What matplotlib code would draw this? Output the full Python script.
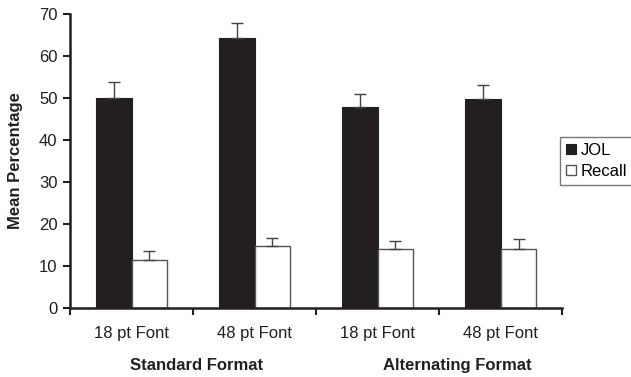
import numpy as np
import matplotlib.pyplot as plt

plt.rcParams['font.family'] = ['Liberation Sans', 'DejaVu Sans']

# Data
conditions = ['18 pt Font', '48 pt Font', '18 pt Font', '48 pt Font']
groups = ['Standard Format', 'Alternating Format']
jol = [50.1, 64.3, 47.9, 49.8]
jol_err = [3.6, 3.6, 3.1, 3.4]
recall = [11.5, 14.8, 14.1, 14.1]
recall_err = [2.1, 1.9, 1.8, 2.3]

x = np.arange(len(conditions))
w = 0.29
dark = '#231f20'

fig = plt.figure(figsize=(6.31, 3.77), dpi=100)
ax = fig.add_axes([0.111, 0.183, 0.78, 0.78])

ekw = dict(ecolor='#444444', elinewidth=1, capsize=4, capthick=1)
ax.bar(x - w / 2, jol, w, color=dark, edgecolor=dark, linewidth=0.8,
       yerr=[np.zeros(4), jol_err], error_kw=ekw, label='JOL', zorder=2)
ax.bar(x + w / 2, recall, w, color='white', edgecolor='#555555', linewidth=1,
       yerr=[np.zeros(4), recall_err], error_kw=ekw, label='Recall', zorder=2)

ax.set_xlim(-0.5, len(conditions) - 0.5)
ax.set_ylim(0, 70)
ax.set_yticks(range(0, 71, 10))
ax.set_xticks(np.arange(-0.5, len(conditions), 1.0))
ax.set_xticklabels([])
ax.tick_params(axis='x', length=5, width=1.5, direction='out', color=dark)
ax.tick_params(axis='y', length=5, width=1.5, direction='out', labelsize=12,
               color=dark, labelcolor=dark, pad=4)
for s in ['top', 'right']:
    ax.spines[s].set_visible(False)
for s in ['left', 'bottom']:
    ax.spines[s].set_linewidth(1.8)
    ax.spines[s].set_color(dark)

for xi, lab in zip(x, conditions):
    ax.text(xi, -0.087, lab, transform=ax.get_xaxis_transform(), ha='center', va='center',
            fontsize=12, color=dark)
for xg, g in zip([0.53, 2.65], groups):
    ax.text(xg, -0.197, g, transform=ax.get_xaxis_transform(), ha='center', va='center',
            fontsize=12, fontweight='bold', color=dark)

fig.text(16 / 631, 0.183 + 0.39, 'Mean Percentage', rotation=90, ha='center', va='center',
         fontsize=12, fontweight='bold', color=dark)

leg = ax.legend(loc='center left', bbox_to_anchor=(0.995, 0.5), fontsize=12, frameon=True,
                fancybox=False, edgecolor='#555555', handlelength=0.6, handleheight=0.6,
                handletextpad=0.3, borderpad=0.35, labelspacing=0.35, borderaxespad=0)
leg.get_frame().set_linewidth(1)

fig.savefig('out.png', dpi=100)
